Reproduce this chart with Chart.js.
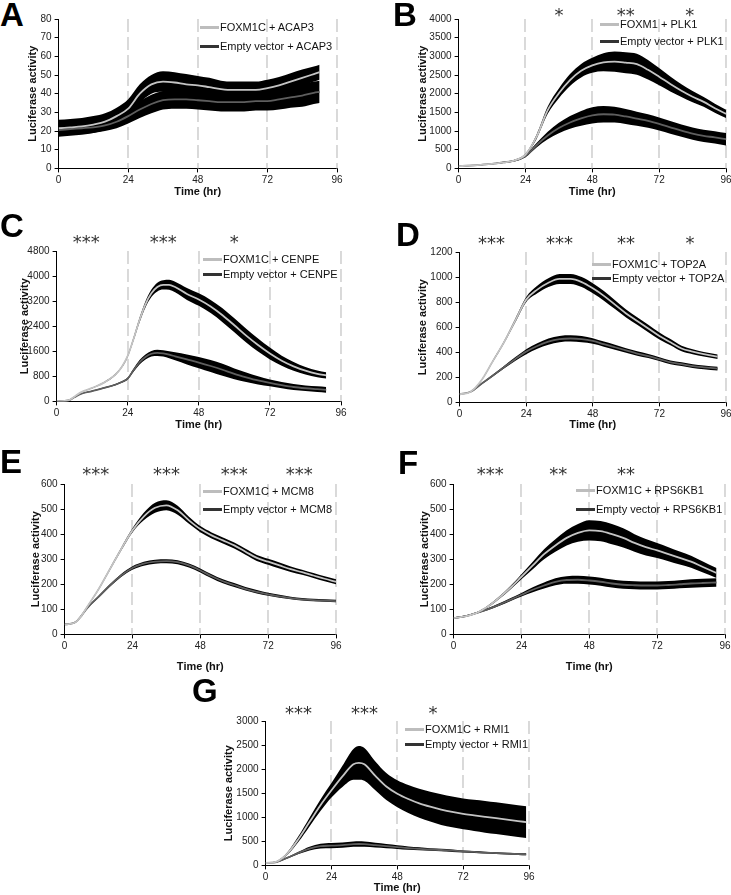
<!DOCTYPE html>
<html>
<head>
<meta charset="utf-8">
<script src="https://cdn.jsdelivr.net/npm/chart.js@4.4.0/dist/chart.umd.min.js"></script>
<style>
body { margin: 0; background: #fff; }
#fig { position: relative; width: 731px; height: 895px; overflow: hidden; background: #fff; }
#fig canvas { position: absolute; }
.letter { position: absolute; font: bold 33px/1 "Liberation Sans", Arial, sans-serif; color: #000; }
.leg { position: absolute; font: 11px/12px "Liberation Sans", Arial, sans-serif; color: #111; white-space: nowrap; z-index: 2; }
.leg i { display: inline-block; width: 19px; height: 3px; margin-right: 1px; vertical-align: middle; position: relative; top: -1px; }
</style>
</head>
<body>
<div id="fig"></div>
<script>
// ---- data (hours, luciferase activity) ----
// A: ACAP3
const tA = [0,4,8,12,16,20,24,28,32,36,40,44,48,52,56,60,64,68,72,76,80,84,88,90];
const foxA = [21.5,22,22.5,23.5,25,28,32,40,45,46.5,46,45,44.5,43.5,42.5,42,42,42,43,44.5,46.5,48.5,50.5,51.5];
const foxSdA = [4.5,4.5,4.5,4.5,4.5,4.5,5,5,5,5.5,5.5,5.5,5,5,4.5,4.5,4.5,4.5,4.5,4.5,4.5,4.5,4,4];
const empA = [20.5,21,21.5,22,23,25,28,31.5,34.5,36.5,37,37,36.5,36,35.5,35.5,35.5,36,36,37,38,39,40.5,41];
const empSdA = [3,3,3,3,3,3.5,4,4.5,5,5,5,5,5,5,5,5,5,5,5,5.5,5.5,6,6,6];

// B: PLK1
const tB = [0,4,8,12,16,20,24,28,32,36,40,44,48,52,56,60,64,68,72,76,80,84,88,92,96];
const foxB = [60,75,95,120,160,210,370,850,1560,2010,2366,2616,2760,2840,2857,2830,2790,2640,2455,2260,2080,1920,1780,1610,1460];
const foxSdB = [10,10,10,10,15,20,30,60,100,130,160,180,200,240,270,280,280,260,230,200,170,150,130,120,110];
const empB = [60,75,95,120,160,205,330,620,880,1080,1230,1340,1420,1450,1440,1390,1330,1270,1190,1100,1010,930,870,830,780];
const empSdB = [10,10,10,10,15,20,30,60,100,140,170,200,220,220,210,200,190,180,175,170,165,165,165,165,165];

// C: CENPE
const tC = [0,4,6,8,12,16,20,22,24,26,28,30,32,34,36,38,40,44,48,52,56,60,64,68,72,76,80,84,88,91];
const foxC = [0,30,150,280,430,600,870,1100,1450,2000,2600,3100,3450,3650,3720,3720,3650,3430,3250,3030,2750,2430,2100,1800,1530,1300,1120,980,880,830];
const foxSdC = [0,5,10,10,15,20,25,30,40,60,80,100,120,140,150,160,170,190,200,210,220,220,220,210,190,160,140,120,110,100];
const empC = [0,30,130,230,330,430,540,620,730,1000,1250,1420,1520,1550,1530,1490,1440,1340,1240,1130,1010,880,770,670,590,520,460,420,390,370];
const empSdC = [0,5,10,10,15,20,25,25,30,50,70,80,90,100,100,110,130,160,180,190,190,170,150,130,110,100,95,90,90,90];

// D: TOP2A
const tD = [0,4,8,12,16,20,24,28,32,36,40,44,48,52,56,60,64,68,72,76,80,84,88,93];
const foxD = [65,85,180,330,480,650,820,900,955,985,985,960,910,850,780,710,650,590,530,480,430,405,385,365];
const foxSdD = [2,3,5,8,10,15,20,30,35,40,40,40,40,38,35,32,30,30,28,25,22,20,18,18];
const empD = [65,85,150,215,280,345,405,450,485,505,510,505,490,465,440,415,390,370,345,320,305,290,280,270];
const empSdD = [2,3,5,8,10,15,20,22,25,25,25,25,22,20,20,18,18,16,15,15,15,15,15,15];

// E: MCM8
const tE = [0,2,4,6,8,12,16,20,24,28,32,36,40,44,48,52,56,60,64,68,72,76,80,84,88,92,96];
const foxE = [40,42,50,75,110,180,260,340,415,470,505,515,495,455,420,395,375,355,330,305,290,275,260,248,235,222,210];
const foxSdE = [2,2,2,3,3,4,5,6,8,15,20,20,18,14,12,12,12,12,12,12,12,12,11,10,10,10,10];
const empE = [40,42,50,75,105,150,195,235,265,282,290,292,288,275,255,232,212,197,182,170,160,152,145,140,137,135,133];
const empSdE = [2,2,2,3,3,4,5,6,7,8,8,8,8,8,8,8,8,8,7,7,6,6,5,5,5,5,5];

// F: RPS6KB1
const tF = [0,4,8,12,16,20,24,28,32,36,40,44,48,52,56,60,64,68,72,76,80,84,88,93];
const foxF = [65,72,85,110,145,185,230,275,320,355,385,405,415,412,400,385,365,348,335,320,305,290,270,245];
const foxSdF = [3,3,3,4,5,7,10,15,20,25,30,35,40,40,40,38,35,33,30,28,26,24,22,20];
const empF = [65,72,85,100,118,138,158,178,195,210,217,218,215,210,203,198,196,195,195,197,200,203,205,207];
const empSdF = [3,3,3,4,5,6,7,10,12,14,15,16,16,16,16,16,16,16,16,16,16,17,17,17];

// G: RMI1
const tG = [0,4,8,12,16,20,24,28,32,34,36,40,44,48,52,56,60,64,68,72,76,80,84,88,92,95];
const foxG = [50,80,250,550,900,1250,1560,1850,2100,2130,2100,1860,1640,1490,1380,1290,1220,1160,1110,1070,1040,1010,980,950,920,900];
const foxSdG = [5,10,30,60,90,120,150,220,320,350,340,300,280,280,290,300,310,320,320,320,325,330,330,330,330,330];
const empG = [50,70,160,260,350,400,410,420,440,445,440,420,400,380,360,345,330,320,305,290,280,265,255,245,235,230];
const empSdG = [5,8,15,25,40,50,55,55,55,55,55,50,45,40,35,30,28,25,25,22,20,20,20,20,20,20];

// significance marks (hour they sit over, label)
const starsB = [36,60,83], starLabB = ['*','**','*'];
const starsC = [10,36,60], starLabC = ['***','***','*'];
const starsD = [11.5,36,60,83], starLabD = ['***','***','**','*'];
const starsE = [11,36,60,83], starLabE = ['***','***','***','***'];
const starsF = [13,37,61], starLabF = ['***','**','**'];
const starsG = [12,36,61], starLabG = ['***','***','*'];

const yMaxes = {A: 80, B: 4000, C: 4800, D: 1200, E: 600, F: 600, G: 3000};
const ySteps = {A: 10, B: 500, C: 800, D: 200, E: 100, F: 100, G: 500};
const genes = {A: 'ACAP3', B: 'PLK1', C: 'CENPE', D: 'TOP2A', E: 'MCM8', F: 'RPS6KB1', G: 'RMI1'};

// ---- layout (page pixels): plot box, y-title centre x, x-title centre y ----
const panels = [
  {id:'A', t:tA, fox:foxA, foxSd:foxSdA, emp:empA, empSd:empSdA, stars:[], starLab:[], L:59, R:337, T:19, B:168, yt:33, tt:192, dy:0,
   letter:[0,-2], leg:[200,27,46], foxName:'FOXM1C'},
  {id:'B', t:tB, fox:foxB, foxSd:foxSdB, emp:empB, empSd:empSdB, stars:starsB, starLab:starLabB, L:459, R:726, T:19, B:168, yt:423, tt:192, dy:-8,
   letter:[393,-2], leg:[600,24,41], foxName:'FOXM1'},
  {id:'C', t:tC, fox:foxC, foxSd:foxSdC, emp:empC, empSd:empSdC, stars:starsC, starLab:starLabC, L:57, R:341, T:251, B:401, yt:25, tt:425, dy:-13,
   letter:[0,209], leg:[203,259,274], foxName:'FOXM1C'},
  {id:'D', t:tD, fox:foxD, foxSd:foxSdD, emp:empD, empSd:empSdD, stars:starsD, starLab:starLabD, L:460, R:726, T:252, B:402, yt:423, tt:425, dy:-13,
   letter:[396,218], leg:[592,264,278], foxName:'FOXM1C'},
  {id:'E', t:tE, fox:foxE, foxSd:foxSdE, emp:empE, empSd:empSdE, stars:starsE, starLab:starLabE, L:65, R:336, T:484, B:634, yt:36, tt:667, dy:-14,
   letter:[0,445], leg:[203,491,509], foxName:'FOXM1C'},
  {id:'F', t:tF, fox:foxF, foxSd:foxSdF, emp:empF, empSd:empSdF, stars:starsF, starLab:starLabF, L:454, R:725, T:484, B:634, yt:425, tt:667, dy:-14,
   letter:[398,446], leg:[576,490,509], foxName:'FOXM1C'},
  {id:'G', t:tG, fox:foxG, foxSd:foxSdG, emp:empG, empSd:empSdG, stars:starsG, starLab:starLabG, L:266, R:529, T:721, B:865, yt:229, tt:888, dy:-12,
   letter:[192,674], leg:[405,729,744], foxName:'FOXM1C'}
];

Chart.defaults.font.family = '"Liberation Sans", Arial, sans-serif';
Chart.defaults.color = '#222';

const pts = (t, v) => t.map((x, i) => ({x, y: v[i]}));
const shift = (t, v, e, s) => t.map((x, i) => ({x, y: v[i] + s * e[i]}));

const guides = {
  id: 'guides',
  beforeDatasetsDraw(chart) {
    const {ctx, chartArea: a, scales: {x}} = chart;
    ctx.save();
    ctx.strokeStyle = '#c6c6c6';
    ctx.lineWidth = 1.3;
    ctx.setLineDash([13, 5]);
    [24, 48, 72, 96].forEach(v => {
      const px = Math.round(x.getPixelForValue(v));
      ctx.beginPath();
      ctx.moveTo(px, a.top);
      ctx.lineTo(px, a.bottom);
      ctx.stroke();
    });
    ctx.restore();
  },
  afterDraw(chart, args, opts) {
    const {ctx, chartArea: a, scales: {x}} = chart;
    ctx.save();
    ctx.font = '18px "DejaVu Sans"';
    ctx.textAlign = 'center';
    ctx.fillStyle = '#333';
    (opts.times || []).forEach((t, i) => {
      const n = opts.labels[i].length;
      const cx = x.getPixelForValue(t);
      for (let k = 0; k < n; k++) {
        ctx.fillText('*', cx + (k - (n - 1) / 2) * 9, a.top + opts.dy + 10);
      }
    });
    ctx.restore();
  }
};

const fig = document.getElementById('fig');
const PAD_TOP = 30, PAD_RIGHT = 12, HALF_LH = 6.6;

panels.forEach(p => {
  const cl = p.yt - HALF_LH;
  const ct = p.T - PAD_TOP;
  const yw = p.L - cl;
  const xh = p.tt + HALF_LH - p.B;
  const cw = Math.round(p.R + PAD_RIGHT - cl);
  const ch = Math.round(p.tt + HALF_LH - ct);

  const cv = document.createElement('canvas');
  cv.width = cw; cv.height = ch;
  cv.style.left = cl + 'px'; cv.style.top = ct + 'px';
  cv.style.width = cw + 'px'; cv.style.height = ch + 'px';
  fig.appendChild(cv);

  const letter = document.createElement('div');
  letter.className = 'letter';
  letter.textContent = p.id;
  letter.style.left = p.letter[0] + 'px';
  letter.style.top = p.letter[1] + 'px';
  fig.appendChild(letter);

  [[p.foxName + ' + ' + genes[p.id], '#bdbdbd', p.leg[1]], ['Empty vector + ' + genes[p.id], '#333', p.leg[2]]].forEach(([txt, col, y]) => {
    const d = document.createElement('div');
    d.className = 'leg';
    d.style.left = p.leg[0] + 'px';
    d.style.top = (y - 6) + 'px';
    d.innerHTML = '<i style="background:' + col + '"></i>' + txt;
    fig.appendChild(d);
  });

  const common = {pointRadius: 0, cubicInterpolationMode: 'monotone'};
  new Chart(cv, {
    type: 'line',
    data: {
      datasets: [
        {...common, data: pts(p.t, p.fox), borderColor: '#c4c4c4', borderWidth: 1.8, fill: false, order: 0},
        {...common, data: pts(p.t, p.emp), borderColor: '#5e5e5e', borderWidth: 1.8, fill: false, order: 1},
        {...common, data: shift(p.t, p.fox, p.foxSd, 1), borderWidth: 0, borderColor: '#000', backgroundColor: '#000', fill: 3, order: 2},
        {...common, data: shift(p.t, p.fox, p.foxSd, -1), borderWidth: 0, borderColor: '#000', fill: false, order: 2},
        {...common, data: shift(p.t, p.emp, p.empSd, 1), borderWidth: 0, borderColor: '#000', backgroundColor: '#000', fill: 5, order: 3},
        {...common, data: shift(p.t, p.emp, p.empSd, -1), borderWidth: 0, borderColor: '#000', fill: false, order: 3}
      ]
    },
    options: {
      responsive: false,
      animation: false,
      devicePixelRatio: 1,
      layout: {padding: {top: PAD_TOP, right: PAD_RIGHT, left: 0, bottom: 0}},
      plugins: {
        legend: {display: false},
        tooltip: {enabled: false},
        guides: {times: p.stars, labels: p.starLab, dy: p.dy}
      },
      scales: {
        x: {
          type: 'linear', min: 0, max: 96,
          ticks: {stepSize: 24, font: {size: 10}, color: '#222', maxRotation: 0, padding: 2},
          grid: {drawOnChartArea: false, color: '#000', tickLength: 4},
          border: {color: '#000', width: 1},
          title: {display: true, text: 'Time (hr)', font: {size: 11, weight: 'bold'}, color: '#111', padding: 0},
          afterFit(s) { s.height = xh; }
        },
        y: {
          min: 0, max: yMaxes[p.id],
          ticks: {stepSize: ySteps[p.id], font: {size: 10}, color: '#222', padding: 3, callback: v => String(v)},
          grid: {drawOnChartArea: false, color: '#000', tickLength: 4},
          border: {color: '#000', width: 1},
          title: {display: true, text: 'Luciferase activity', font: {size: 11, weight: 'bold'}, color: '#111', padding: 0},
          afterFit(s) { s.width = yw; }
        }
      }
    },
    plugins: [guides]
  });
});
</script>
</body>
</html>
